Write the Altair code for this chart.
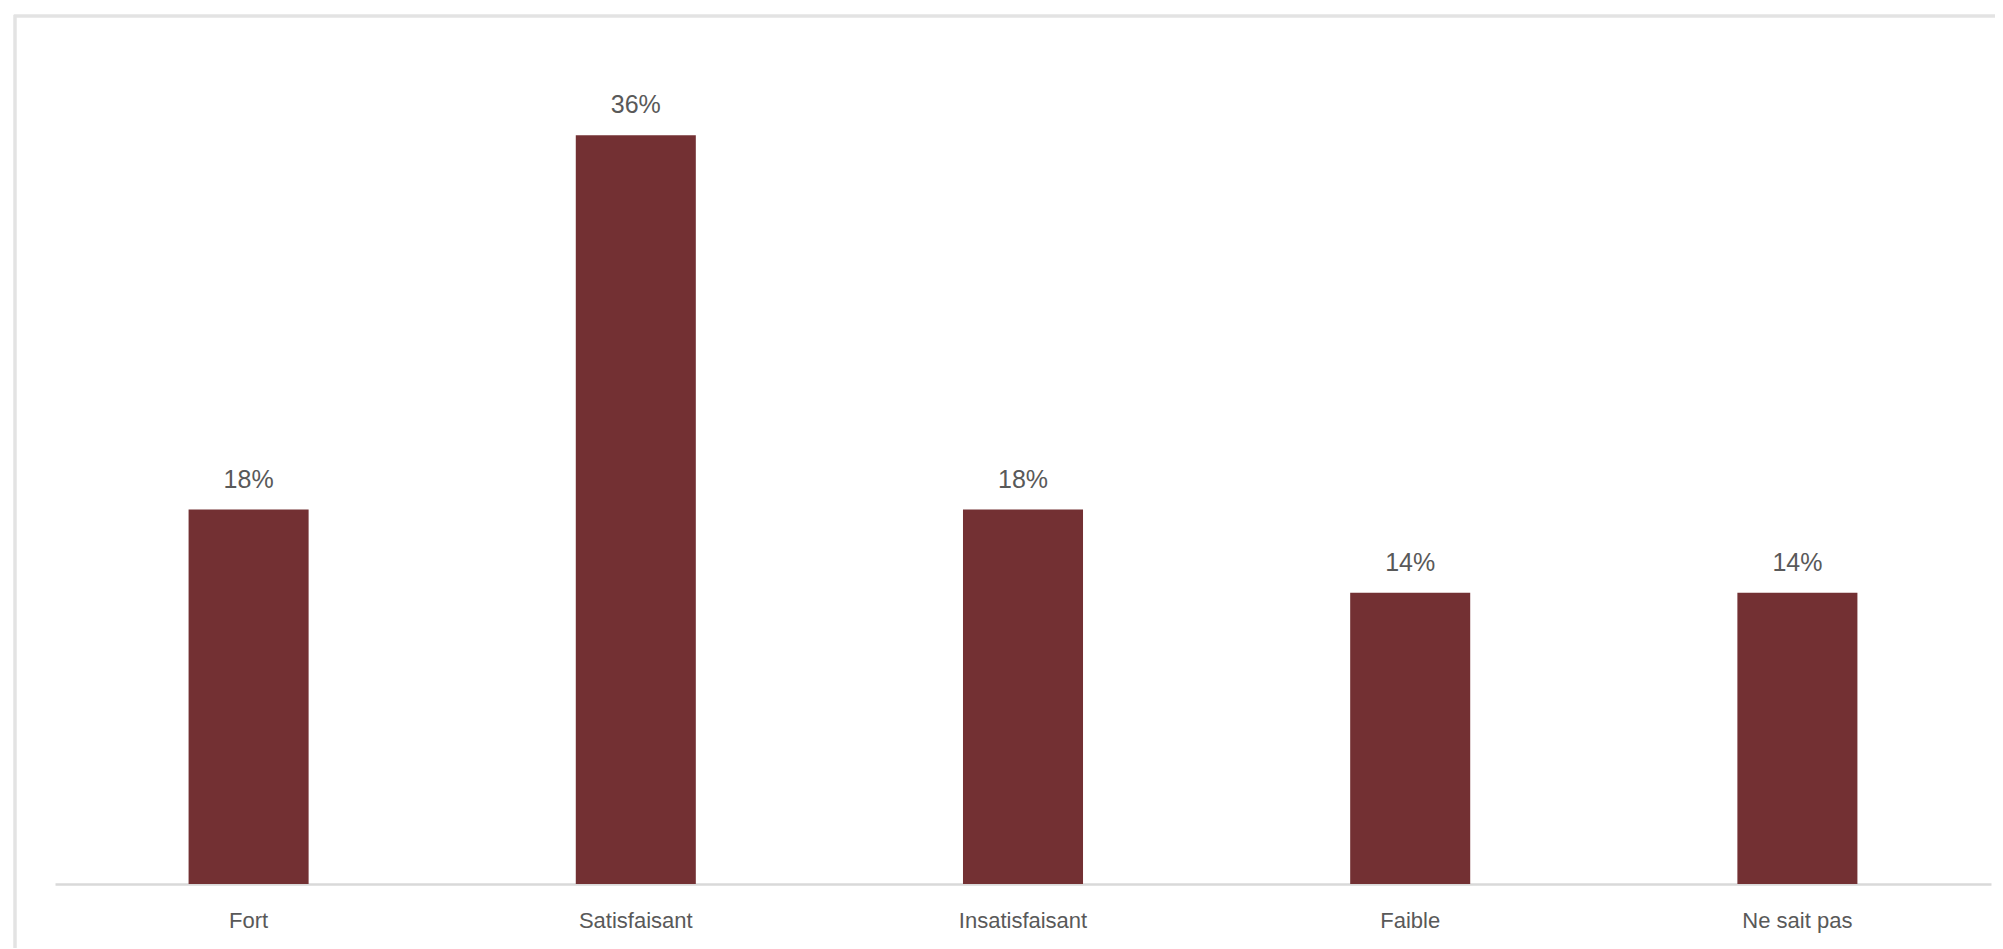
import altair as alt
import pandas as pd

categories = ["Fort", "Satisfaisant", "Insatisfaisant", "Faible", "Ne sait pas"]
values = [18, 36, 18, 14, 14]
labels = ["18%", "36%", "18%", "14%", "14%"]

df = pd.DataFrame({"cat": categories, "val": values, "lab": labels})

W = 1936
H = 832
BAR = "#733033"
TXT = "#595959"

x = alt.X("cat:N", sort=categories, title=None,
          scale=alt.Scale(paddingInner=0.69, paddingOuter=0.345),
          axis=alt.Axis(labelAngle=0, labelFont="Liberation Sans", labelFontSize=22,
                        labelColor=TXT, labelPadding=26, ticks=False,
                        domainColor="#d9d9d9", domainWidth=2.5, grid=False))
y = alt.Y("val:Q", title=None, scale=alt.Scale(domain=[0, 40]), axis=None)

frame = alt.Chart(df).mark_rect(fill="white", fillOpacity=0, stroke="#e3e3e3", strokeWidth=2.5).encode(
    x=alt.value(-40), x2=alt.value(W + 60), y=alt.value(-36), y2=alt.value(H + 120)
)

bars = alt.Chart(df).mark_bar(color=BAR).encode(x=x, y=y)

text = alt.Chart(df).mark_text(font="Liberation Sans", fontSize=25, color=TXT,
                               baseline="middle", dy=-30).encode(
    x=alt.X("cat:N", sort=categories), y="val:Q", text="lab:N"
)

chart = alt.layer(frame, bars, text).properties(
    width=W, height=H,
    background="white",
    padding={"left": 47, "top": 44, "right": 4, "bottom": 64},
    autosize=alt.AutoSizeParams(type="none"),
).configure_view(strokeWidth=0, stroke="transparent")

chart.save("out.html", embed_options={"renderer": "svg", "actions": False})
